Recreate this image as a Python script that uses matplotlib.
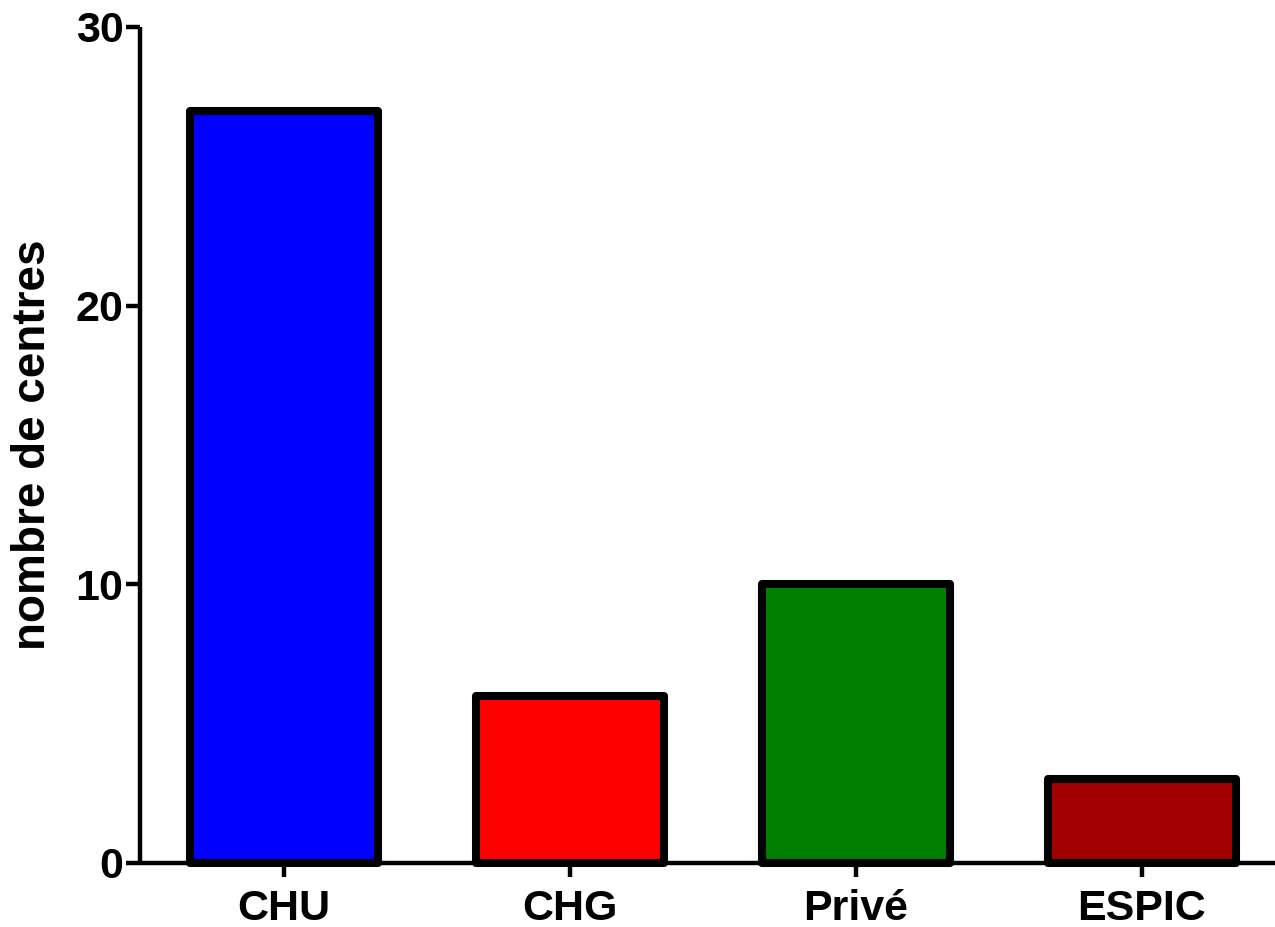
import matplotlib.pyplot as plt
import numpy as np

plt.rcParams.update({
    "font.family": ["Liberation Sans", "DejaVu Sans"],
    "font.weight": "bold",
})

categories = ["CHU", "CHG", "Privé", "ESPIC"]
centres = [27, 6, 10, 3]
colors = ["#0000FF", "#FF0000", "#008000", "#A00000"]
yticks = [0, 10, 20, 30]

fig = plt.figure(figsize=(12.75, 9.27), dpi=100)
ax = fig.add_axes([140 / 1275, 64 / 927, 1 - 140 / 1275, (863 - 27) / 927])

x = np.arange(len(categories))
bars = ax.bar(x, centres, width=0.655, color=colors, edgecolor="black",
              linewidth=5.8, joinstyle="round", zorder=3)
for b in bars:
    b.set_clip_on(False)

ax.set_xlim(-0.503, 3.465)
ax.set_ylim(0, 30)
ax.set_xticks(x)
ax.set_xticklabels(categories)
ax.set_yticks(yticks)

for side in ("top", "right"):
    ax.spines[side].set_visible(False)
for side in ("left", "bottom"):
    ax.spines[side].set_linewidth(3.2)
    ax.spines[side].set_capstyle("butt")

ax.tick_params(axis="both", width=3.2, length=10, labelsize=31, direction="out")
ax.tick_params(axis="y", pad=2)
ax.tick_params(axis="x", pad=9)
for lab in ax.get_xticklabels() + ax.get_yticklabels():
    lab.set_fontweight("bold")

ax.set_ylabel("nombre de centres", fontsize=33, fontweight="bold", labelpad=15)

fig.savefig("out.png", dpi=100)
